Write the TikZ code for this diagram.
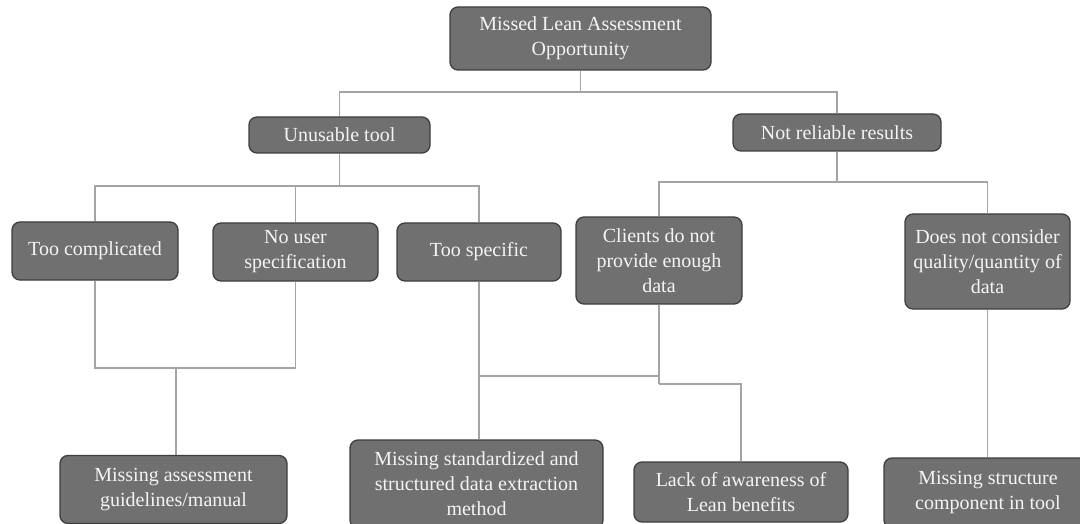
\documentclass[tikz,border=0pt]{standalone}
\usepackage{fontspec}
\setmainfont{Liberation Serif}
\begin{document}
\begin{tikzpicture}[x=1pt,y=-1pt,
  box/.style={draw=boxedge, fill=boxfill, line width=1.3pt, rounded corners=8pt,
    text=boxtext, align=center, inner sep=1pt, font=\fontsize{20}{25}\selectfont},
  link/.style={draw=linkgray, line width=1.1pt}]
\definecolor{boxfill}{HTML}{707070}
\definecolor{boxedge}{HTML}{3E3E3E}
\definecolor{boxtext}{HTML}{F4F4F4}
\definecolor{linkgray}{HTML}{A4A4A4}
\useasboundingbox (0,0) rectangle (1080,524);

% top level
\node[box, minimum width=261pt, minimum height=63pt] (root) at (580.5,38.5) {Missed Lean Assessment\\Opportunity};

% second level
\node[box, minimum width=181pt, minimum height=36pt] (unus) at (339.5,135) {Unusable tool};
\node[box, minimum width=208pt, minimum height=37pt] (nrel) at (837,132.5) {Not reliable results};

% third level
\node[box, minimum width=166pt, minimum height=58pt] (tcom) at (95,251) {Too complicated};
\node[box, minimum width=165pt, minimum height=58pt] (nous) at (295.5,252) {No user\\specification};
\node[box, minimum width=164pt, minimum height=58pt] (tspe) at (479,252) {Too specific};
\node[box, minimum width=166pt, minimum height=87pt] (clie) at (659,260.5) {Clients do not\\provide enough\\data};
\node[box, minimum width=165pt, minimum height=95pt] (dnc) at (987.5,261.5) {Does not consider\\quality/quantity of\\data};

% bottom level
\node[box, minimum width=227pt, minimum height=68pt] (mag) at (173.5,489.5) {Missing assessment\\guidelines/manual};
\node[box, minimum width=253pt, minimum height=88pt] (mstd) at (476.5,484) {Missing standardized and\\structured data extraction\\method};
\node[box, minimum width=214pt, minimum height=60pt] (lack) at (741,492) {Lack of awareness of\\Lean benefits};
\node[box, minimum width=208pt, minimum height=70pt] (mstr) at (988,493) {Missing structure\\component in tool};

% junction points
\coordinate (j0) at (580.5,92);
\coordinate (j1) at (339.5,186);
\coordinate (j2) at (837,182);
\coordinate (j3) at (176,368);
\coordinate (j4) at (659,376);
\coordinate (j5) at (659,384);

% connectors
\draw[link] (root.south) -- (j0);
\draw[link] (j0) -| (unus.north);
\draw[link] (j0) -| (nrel.north);

\draw[link] (unus.south) -- (j1);
\draw[link] (j1) -| (tcom.north);
\draw[link] (j1) -| (nous.north);
\draw[link] (j1) -| (tspe.north);

\draw[link] (nrel.south) -- (j2);
\draw[link] (j2) -| (clie.north);
\draw[link] (j2) -| (dnc.north);

\draw[link] (tcom.south) |- (j3);
\draw[link] (nous.south) |- (j3);
\draw[link] (j3) -- (j3 |- mag.north);

\draw[link] (tspe.south) -- (tspe.south |- mstd.north);
\draw[link] (tspe.south |- j4) -- (j4);
\draw[link] (clie.south) -- (j5);
\draw[link] (j5) -| (lack.north);

\draw[link] (dnc.south) -- (dnc.south |- mstr.north);
\end{tikzpicture}
\end{document}
